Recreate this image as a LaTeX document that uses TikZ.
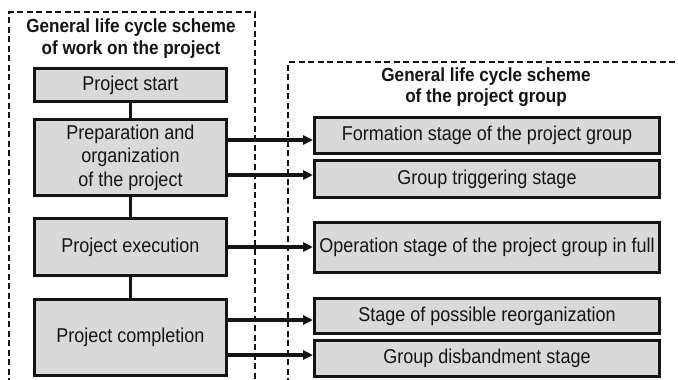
\documentclass[tikz,border=0pt]{standalone}
\usepackage{fontspec}
\setmainfont{Liberation Sans}[FakeStretch=0.9]
\usetikzlibrary{arrows.meta}
\definecolor{boxfill}{HTML}{D9D9D9}
\definecolor{ink}{HTML}{141414}
\tikzset{
  stagebox/.style={draw=ink, fill=boxfill, line width=3pt, rectangle, inner sep=0pt, align=center,
    text=ink, font=\fontsize{20}{23.5}\selectfont},
  leftbox/.style={stagebox, minimum width=192pt},
  rightbox/.style={stagebox, minimum width=345pt},
  frame/.style={draw=ink, line width=2.8pt, dash pattern=on 6pt off 3.5pt},
  titletext/.style={align=center, text=ink, font=\bfseries\fontsize{19}{21.5}\selectfont},
  link/.style={draw=ink, line width=3.4pt},
  arr/.style={link, -{Triangle[length=10pt,width=9pt]}},
}
\begin{document}
\begin{tikzpicture}[x=1pt,y=-1pt]
\useasboundingbox (0,0) rectangle (678,380);
% dashed frames
\draw[frame] (9,384) -- (9,12) -- (255,12) -- (255,384);
\draw[frame] (288,384) -- (288,62) -- (682,62);
% titles
\node[titletext] (t1) at (131,38.5) {General life cycle scheme\\of work on the project};
\node[titletext] (t2) at (486,87) {General life cycle scheme\\of the project group};
% left boxes
\node[leftbox, minimum height=33pt] (start) at (130.5,85) {Project start};
\node[leftbox, minimum height=76pt] (prep) at (130.5,157.5) {Preparation and\\organization\\of the project};
\node[leftbox, minimum height=57pt] (exec) at (130.5,247) {Project execution};
\node[leftbox, minimum height=76pt] (compl) at (130.5,337.5) {Project completion};
% right boxes
\node[rightbox, minimum height=36pt] (form) at (487,135.5) {Formation stage of the project group};
\node[rightbox, minimum height=37pt] (trig) at (487,179) {Group triggering stage};
\node[rightbox, minimum height=50pt] (oper) at (487,247.5) {Operation stage of the project group in full};
\node[rightbox, minimum height=35pt] (reorg) at (487,316) {Stage of possible reorganization};
\node[rightbox, minimum height=36pt] (disb) at (487,358.5) {Group disbandment stage};
% vertical links
\draw[link] (start) -- (prep);
\draw[link] (prep) -- (exec);
\draw[link] (exec) -- (compl);
% arrows
\draw[arr] ([yshift=17.5pt]prep.east) coordinate (a1) -- (a1 -| form.west);
\draw[arr] ([yshift=-17.5pt]prep.east) coordinate (a2) -- (a2 -| trig.west);
\draw[arr] (exec.east) coordinate (a3) -- (a3 -| oper.west);
\draw[arr] ([yshift=17.5pt]compl.east) coordinate (a4) -- (a4 -| reorg.west);
\draw[arr] ([yshift=-17.5pt]compl.east) coordinate (a5) -- (a5 -| disb.west);
\end{tikzpicture}
\end{document}
